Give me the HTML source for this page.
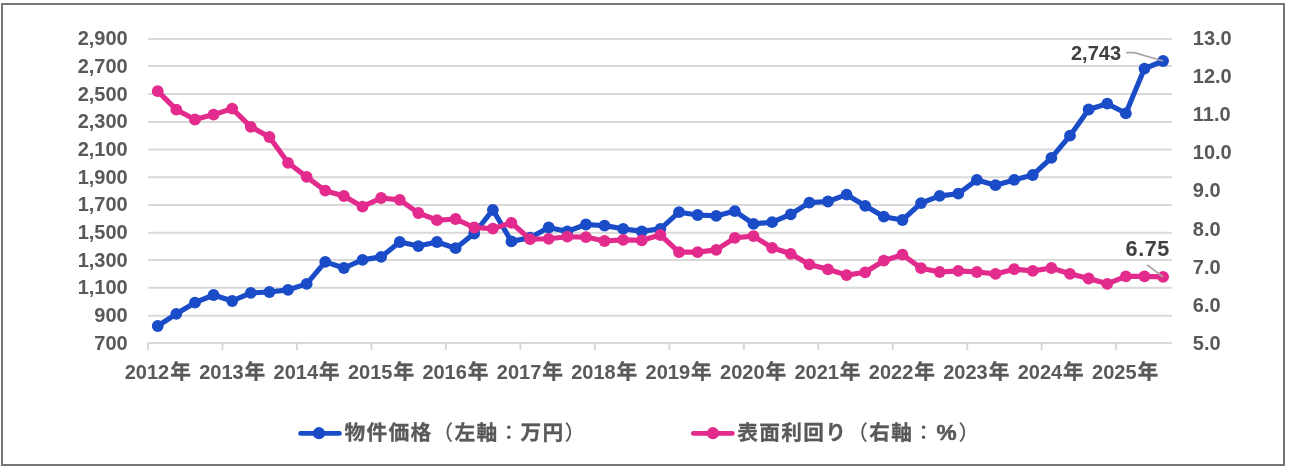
<!DOCTYPE html>
<html lang="ja">
<head>
<meta charset="utf-8">
<title>物件価格と表面利回りの推移</title>
<style>
html,body{margin:0;padding:0;background:#fff;}
body{width:1290px;height:469px;overflow:hidden;}
svg{display:block;will-change:transform;}
text{font-family:"Liberation Sans","Noto Sans CJK JP",sans-serif;font-weight:bold;fill:#595959;}
.n{font-size:20.0px;}
.j{font-size:20.7px;font-family:"Noto Sans CJK JP","Liberation Sans",sans-serif;font-weight:700;stroke:#595959;stroke-width:0.3px;}
.lg{letter-spacing:1.3px;}
.p{font-weight:500;stroke:none;}
.pc{font-family:"Liberation Sans",sans-serif;font-weight:bold;font-size:22.6px;letter-spacing:0;stroke:#595959;stroke-width:0.6px;}
.d{fill:#404040;}
</style>
</head>
<body>
<svg width="1290" height="469" viewBox="0 0 1290 469">
<rect x="0" y="0" width="1290" height="469" fill="#fff"/>
<rect x="2" y="4" width="1282" height="461" fill="none" stroke="#767676" stroke-width="2"/>

<g stroke="#d9d9d9" stroke-width="2" fill="none">
<line x1="148.0" y1="39.00" x2="1172.0" y2="39.00"/>
<line x1="148.0" y1="66.10" x2="1172.0" y2="66.10"/>
<line x1="148.0" y1="94.10" x2="1172.0" y2="94.10"/>
<line x1="148.0" y1="121.90" x2="1172.0" y2="121.90"/>
<line x1="148.0" y1="149.60" x2="1172.0" y2="149.60"/>
<line x1="148.0" y1="177.20" x2="1172.0" y2="177.20"/>
<line x1="148.0" y1="204.90" x2="1172.0" y2="204.90"/>
<line x1="148.0" y1="232.75" x2="1172.0" y2="232.75"/>
<line x1="148.0" y1="260.00" x2="1172.0" y2="260.00"/>
<line x1="148.0" y1="287.80" x2="1172.0" y2="287.80"/>
<line x1="148.0" y1="315.80" x2="1172.0" y2="315.80"/>
<line x1="148.0" y1="343.00" x2="1172.0" y2="343.00"/>
<line x1="148.00" y1="343.0" x2="148.00" y2="350.00"/>
<line x1="222.47" y1="343.0" x2="222.47" y2="350.00"/>
<line x1="296.95" y1="343.0" x2="296.95" y2="350.00"/>
<line x1="371.42" y1="343.0" x2="371.42" y2="350.00"/>
<line x1="445.89" y1="343.0" x2="445.89" y2="350.00"/>
<line x1="520.36" y1="343.0" x2="520.36" y2="350.00"/>
<line x1="594.84" y1="343.0" x2="594.84" y2="350.00"/>
<line x1="669.31" y1="343.0" x2="669.31" y2="350.00"/>
<line x1="743.78" y1="343.0" x2="743.78" y2="350.00"/>
<line x1="818.25" y1="343.0" x2="818.25" y2="350.00"/>
<line x1="892.73" y1="343.0" x2="892.73" y2="350.00"/>
<line x1="967.20" y1="343.0" x2="967.20" y2="350.00"/>
<line x1="1041.67" y1="343.0" x2="1041.67" y2="350.00"/>
<line x1="1116.15" y1="343.0" x2="1116.15" y2="350.00"/>
</g>
<text class="n" x="127.7" y="45" text-anchor="end">2,900</text>
<text class="n" x="127.7" y="73" text-anchor="end">2,700</text>
<text class="n" x="127.7" y="101" text-anchor="end">2,500</text>
<text class="n" x="127.7" y="128" text-anchor="end">2,300</text>
<text class="n" x="127.7" y="156" text-anchor="end">2,100</text>
<text class="n" x="127.7" y="184" text-anchor="end">1,900</text>
<text class="n" x="127.7" y="211" text-anchor="end">1,700</text>
<text class="n" x="127.7" y="239" text-anchor="end">1,500</text>
<text class="n" x="127.7" y="267" text-anchor="end">1,300</text>
<text class="n" x="127.7" y="294" text-anchor="end">1,100</text>
<text class="n" x="127.7" y="322" text-anchor="end">900</text>
<text class="n" x="127.7" y="350" text-anchor="end">700</text>
<text class="n" x="1192.8" y="45">13.0</text>
<text class="n" x="1192.8" y="83">12.0</text>
<text class="n" x="1192.8" y="121">11.0</text>
<text class="n" x="1192.8" y="159">10.0</text>
<text class="n" x="1192.8" y="197">9.0</text>
<text class="n" x="1192.8" y="236">8.0</text>
<text class="n" x="1192.8" y="274">7.0</text>
<text class="n" x="1192.8" y="312">6.0</text>
<text class="n" x="1192.8" y="350">5.0</text>
<text x="157.81" y="378.8" text-anchor="middle"><tspan class="n">2012</tspan><tspan class="j" dx="0.9">年</tspan></text>
<text x="232.22" y="378.8" text-anchor="middle"><tspan class="n">2013</tspan><tspan class="j" dx="0.9">年</tspan></text>
<text x="306.62" y="378.8" text-anchor="middle"><tspan class="n">2014</tspan><tspan class="j" dx="0.9">年</tspan></text>
<text x="381.03" y="378.8" text-anchor="middle"><tspan class="n">2015</tspan><tspan class="j" dx="0.9">年</tspan></text>
<text x="455.44" y="378.8" text-anchor="middle"><tspan class="n">2016</tspan><tspan class="j" dx="0.9">年</tspan></text>
<text x="529.85" y="378.8" text-anchor="middle"><tspan class="n">2017</tspan><tspan class="j" dx="0.9">年</tspan></text>
<text x="604.26" y="378.8" text-anchor="middle"><tspan class="n">2018</tspan><tspan class="j" dx="0.9">年</tspan></text>
<text x="678.66" y="378.8" text-anchor="middle"><tspan class="n">2019</tspan><tspan class="j" dx="0.9">年</tspan></text>
<text x="753.07" y="378.8" text-anchor="middle"><tspan class="n">2020</tspan><tspan class="j" dx="0.9">年</tspan></text>
<text x="827.48" y="378.8" text-anchor="middle"><tspan class="n">2021</tspan><tspan class="j" dx="0.9">年</tspan></text>
<text x="901.89" y="378.8" text-anchor="middle"><tspan class="n">2022</tspan><tspan class="j" dx="0.9">年</tspan></text>
<text x="976.29" y="378.8" text-anchor="middle"><tspan class="n">2023</tspan><tspan class="j" dx="0.9">年</tspan></text>
<text x="1050.70" y="378.8" text-anchor="middle"><tspan class="n">2024</tspan><tspan class="j" dx="0.9">年</tspan></text>
<text x="1125.11" y="378.8" text-anchor="middle"><tspan class="n">2025</tspan><tspan class="j" dx="0.9">年</tspan></text>
<polyline points="157.71,326.00 176.33,313.80 194.95,302.70 213.56,295.00 232.18,301.00 250.80,292.90 269.42,292.00 288.04,289.90 306.65,283.90 325.27,261.90 343.89,268.00 362.51,259.90 381.13,256.90 399.75,242.00 418.36,246.10 436.98,242.00 455.60,248.20 474.22,233.50 492.84,209.80 511.45,241.40 530.07,237.70 548.69,227.50 567.31,231.40 585.93,224.50 604.55,225.60 623.16,228.80 641.78,231.40 660.40,228.80 679.02,212.20 697.64,215.00 716.25,215.90 734.87,211.10 753.49,223.90 772.11,222.20 790.73,214.30 809.35,202.60 827.96,201.50 846.58,194.70 865.20,205.80 883.82,216.70 902.44,220.00 921.05,203.10 939.67,195.90 958.29,193.70 976.91,179.90 995.53,185.20 1014.15,179.90 1032.76,175.00 1051.38,157.90 1070.00,135.70 1088.62,109.50 1107.24,103.70 1125.85,113.30 1144.47,68.60 1163.09,61.00" fill="none" stroke="#1b4cc8" stroke-width="5.15" stroke-linejoin="round" stroke-linecap="round"/>
<g fill="#1b4cc8">
<circle cx="157.71" cy="326.00" r="5.9"/>
<circle cx="176.33" cy="313.80" r="5.9"/>
<circle cx="194.95" cy="302.70" r="5.9"/>
<circle cx="213.56" cy="295.00" r="5.9"/>
<circle cx="232.18" cy="301.00" r="5.9"/>
<circle cx="250.80" cy="292.90" r="5.9"/>
<circle cx="269.42" cy="292.00" r="5.9"/>
<circle cx="288.04" cy="289.90" r="5.9"/>
<circle cx="306.65" cy="283.90" r="5.9"/>
<circle cx="325.27" cy="261.90" r="5.9"/>
<circle cx="343.89" cy="268.00" r="5.9"/>
<circle cx="362.51" cy="259.90" r="5.9"/>
<circle cx="381.13" cy="256.90" r="5.9"/>
<circle cx="399.75" cy="242.00" r="5.9"/>
<circle cx="418.36" cy="246.10" r="5.9"/>
<circle cx="436.98" cy="242.00" r="5.9"/>
<circle cx="455.60" cy="248.20" r="5.9"/>
<circle cx="474.22" cy="233.50" r="5.9"/>
<circle cx="492.84" cy="209.80" r="5.9"/>
<circle cx="511.45" cy="241.40" r="5.9"/>
<circle cx="530.07" cy="237.70" r="5.9"/>
<circle cx="548.69" cy="227.50" r="5.9"/>
<circle cx="567.31" cy="231.40" r="5.9"/>
<circle cx="585.93" cy="224.50" r="5.9"/>
<circle cx="604.55" cy="225.60" r="5.9"/>
<circle cx="623.16" cy="228.80" r="5.9"/>
<circle cx="641.78" cy="231.40" r="5.9"/>
<circle cx="660.40" cy="228.80" r="5.9"/>
<circle cx="679.02" cy="212.20" r="5.9"/>
<circle cx="697.64" cy="215.00" r="5.9"/>
<circle cx="716.25" cy="215.90" r="5.9"/>
<circle cx="734.87" cy="211.10" r="5.9"/>
<circle cx="753.49" cy="223.90" r="5.9"/>
<circle cx="772.11" cy="222.20" r="5.9"/>
<circle cx="790.73" cy="214.30" r="5.9"/>
<circle cx="809.35" cy="202.60" r="5.9"/>
<circle cx="827.96" cy="201.50" r="5.9"/>
<circle cx="846.58" cy="194.70" r="5.9"/>
<circle cx="865.20" cy="205.80" r="5.9"/>
<circle cx="883.82" cy="216.70" r="5.9"/>
<circle cx="902.44" cy="220.00" r="5.9"/>
<circle cx="921.05" cy="203.10" r="5.9"/>
<circle cx="939.67" cy="195.90" r="5.9"/>
<circle cx="958.29" cy="193.70" r="5.9"/>
<circle cx="976.91" cy="179.90" r="5.9"/>
<circle cx="995.53" cy="185.20" r="5.9"/>
<circle cx="1014.15" cy="179.90" r="5.9"/>
<circle cx="1032.76" cy="175.00" r="5.9"/>
<circle cx="1051.38" cy="157.90" r="5.9"/>
<circle cx="1070.00" cy="135.70" r="5.9"/>
<circle cx="1088.62" cy="109.50" r="5.9"/>
<circle cx="1107.24" cy="103.70" r="5.9"/>
<circle cx="1125.85" cy="113.30" r="5.9"/>
<circle cx="1144.47" cy="68.60" r="5.9"/>
<circle cx="1163.09" cy="61.00" r="5.9"/>
</g>
<polyline points="157.71,91.20 176.33,109.70 194.95,119.50 213.56,114.60 232.18,108.70 250.80,126.80 269.42,137.00 288.04,162.80 306.65,176.90 325.27,190.70 343.89,196.00 362.51,206.70 381.13,198.00 399.75,199.90 418.36,213.00 436.98,220.20 455.60,219.00 474.22,227.50 492.84,228.60 511.45,222.80 530.07,239.20 548.69,238.80 567.31,236.70 585.93,237.10 604.55,241.00 623.16,239.90 641.78,240.30 660.40,235.00 679.02,252.10 697.64,252.10 716.25,249.90 734.87,237.80 753.49,236.10 772.11,247.80 790.73,253.80 809.35,264.40 827.96,269.30 846.58,275.10 865.20,272.30 883.82,260.70 902.44,254.70 921.05,268.20 939.67,272.00 958.29,270.90 976.91,272.00 995.53,273.90 1014.15,269.20 1032.76,270.90 1051.38,268.00 1070.00,273.80 1088.62,278.50 1107.24,283.80 1125.85,276.40 1144.47,276.40 1163.09,276.90" fill="none" stroke="#e22b8c" stroke-width="5.15" stroke-linejoin="round" stroke-linecap="round"/>
<g fill="#e22b8c">
<circle cx="157.71" cy="91.20" r="5.9"/>
<circle cx="176.33" cy="109.70" r="5.9"/>
<circle cx="194.95" cy="119.50" r="5.9"/>
<circle cx="213.56" cy="114.60" r="5.9"/>
<circle cx="232.18" cy="108.70" r="5.9"/>
<circle cx="250.80" cy="126.80" r="5.9"/>
<circle cx="269.42" cy="137.00" r="5.9"/>
<circle cx="288.04" cy="162.80" r="5.9"/>
<circle cx="306.65" cy="176.90" r="5.9"/>
<circle cx="325.27" cy="190.70" r="5.9"/>
<circle cx="343.89" cy="196.00" r="5.9"/>
<circle cx="362.51" cy="206.70" r="5.9"/>
<circle cx="381.13" cy="198.00" r="5.9"/>
<circle cx="399.75" cy="199.90" r="5.9"/>
<circle cx="418.36" cy="213.00" r="5.9"/>
<circle cx="436.98" cy="220.20" r="5.9"/>
<circle cx="455.60" cy="219.00" r="5.9"/>
<circle cx="474.22" cy="227.50" r="5.9"/>
<circle cx="492.84" cy="228.60" r="5.9"/>
<circle cx="511.45" cy="222.80" r="5.9"/>
<circle cx="530.07" cy="239.20" r="5.9"/>
<circle cx="548.69" cy="238.80" r="5.9"/>
<circle cx="567.31" cy="236.70" r="5.9"/>
<circle cx="585.93" cy="237.10" r="5.9"/>
<circle cx="604.55" cy="241.00" r="5.9"/>
<circle cx="623.16" cy="239.90" r="5.9"/>
<circle cx="641.78" cy="240.30" r="5.9"/>
<circle cx="660.40" cy="235.00" r="5.9"/>
<circle cx="679.02" cy="252.10" r="5.9"/>
<circle cx="697.64" cy="252.10" r="5.9"/>
<circle cx="716.25" cy="249.90" r="5.9"/>
<circle cx="734.87" cy="237.80" r="5.9"/>
<circle cx="753.49" cy="236.10" r="5.9"/>
<circle cx="772.11" cy="247.80" r="5.9"/>
<circle cx="790.73" cy="253.80" r="5.9"/>
<circle cx="809.35" cy="264.40" r="5.9"/>
<circle cx="827.96" cy="269.30" r="5.9"/>
<circle cx="846.58" cy="275.10" r="5.9"/>
<circle cx="865.20" cy="272.30" r="5.9"/>
<circle cx="883.82" cy="260.70" r="5.9"/>
<circle cx="902.44" cy="254.70" r="5.9"/>
<circle cx="921.05" cy="268.20" r="5.9"/>
<circle cx="939.67" cy="272.00" r="5.9"/>
<circle cx="958.29" cy="270.90" r="5.9"/>
<circle cx="976.91" cy="272.00" r="5.9"/>
<circle cx="995.53" cy="273.90" r="5.9"/>
<circle cx="1014.15" cy="269.20" r="5.9"/>
<circle cx="1032.76" cy="270.90" r="5.9"/>
<circle cx="1051.38" cy="268.00" r="5.9"/>
<circle cx="1070.00" cy="273.80" r="5.9"/>
<circle cx="1088.62" cy="278.50" r="5.9"/>
<circle cx="1107.24" cy="283.80" r="5.9"/>
<circle cx="1125.85" cy="276.40" r="5.9"/>
<circle cx="1144.47" cy="276.40" r="5.9"/>
<circle cx="1163.09" cy="276.90" r="5.9"/>
</g>
<g stroke="#a6a6a6" stroke-width="1.8" fill="none">
<polyline points="1126.2,52.7 1134.4,52.7 1163.0,61.0"/>
<line x1="1147.2" y1="264.9" x2="1163.0" y2="277.0"/>
</g>
<text class="n d" x="1071.0" y="59.9">2,743</text>
<text class="n d" x="1125.6" y="256.1" style="font-size:21.6px;letter-spacing:0.55px">6.75</text>

<g stroke-width="4.9" stroke-linecap="round" fill="none">
<line x1="300.6" y1="433.4" x2="339.4" y2="433.4" stroke="#1b4cc8"/>
<line x1="693.4" y1="433.4" x2="732.3" y2="433.4" stroke="#e22b8c"/>
</g>
<circle cx="319" cy="433.2" r="6.1" fill="#1b4cc8"/>
<circle cx="712.9" cy="433.2" r="6.1" fill="#e22b8c"/>
<text class="j lg" x="344.5" y="439.9">物件価格<tspan class="p">（</tspan>左軸<tspan class="p">：</tspan>万円<tspan class="p">）</tspan></text>
<text class="j lg" x="737.2" y="439.9">表面利回り<tspan class="p">（</tspan>右軸<tspan class="p">：</tspan><tspan class="pc" dx="1.3">%</tspan><tspan class="p" dx="2.0">）</tspan></text>

</svg>
</body>
</html>
